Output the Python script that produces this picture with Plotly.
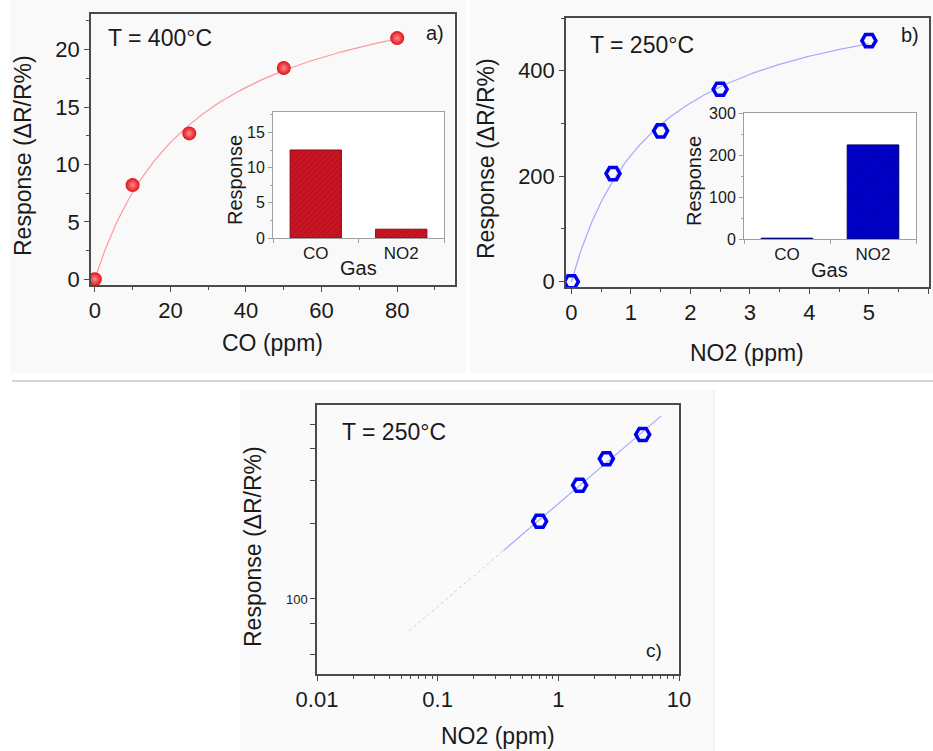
import numpy as np
import plotly.graph_objects as go

# ---------------- data ----------------
co_ppm = [0, 10, 25, 50, 80]
co_resp = [0, 8.2, 12.7, 18.4, 21.0]

no2_ppm = [0, 0.7, 1.5, 2.5, 5]
no2_resp = [0, 205, 286, 365, 457]

gases = ["CO", "NO2"]
resp_400C = [12.5, 1.25]
resp_250C = [2, 224]

loglog_ppm = no2_ppm[1:]
loglog_resp = no2_resp[1:]

c_fit_span = [0.058, 0.35, 7.14]   # extrapolated (dotted) start, solid start, end

W, H = 933, 751
FONT = "Liberation Sans, Arial, sans-serif"
TXT = "#1a1a1a"


def langmuir_fit(x, y):
    """least-squares fit of y = a*x/(b+x)"""
    x = np.asarray(x, float)
    y = np.asarray(y, float)
    best = None
    for b in np.linspace(0.01, 3.0, 3000) * x.max():
        f = x / (b + x)
        a = (f * y).sum() / (f * f).sum()
        sse = ((a * f - y) ** 2).sum()
        if best is None or sse < best[0]:
            best = (sse, a, b)
    return best[1], best[2]


def dx(a, b):
    return [a / W, b / W]


def dy(top, bottom):
    return [1 - bottom / H, 1 - top / H]


fig = go.Figure()

# ---------- panel a ----------
A1, B1 = langmuir_fit(co_ppm, co_resp)
xa = np.linspace(0, max(co_ppm), 200)
fig.add_trace(go.Scatter(x=xa, y=A1 * xa / (B1 + xa), mode="lines",
                         line=dict(color="#ff9a9a", width=1.2), xaxis="x", yaxis="y",
                         showlegend=False, hoverinfo="skip"))
fig.add_trace(go.Scatter(x=co_ppm, y=co_resp, mode="markers",
                         marker=dict(size=14, color="#e0101a",
                                     gradient=dict(type="radial", color="#ff8a8a"),
                                     line=dict(width=0)),
                         xaxis="x", yaxis="y", showlegend=False))

# ---------- inset a ----------
fig.add_trace(go.Bar(x=gases, y=resp_400C, width=0.6,
                     marker=dict(color="#c81424", line=dict(color="#8a0a14", width=1),
                                 pattern=dict(shape="/", fgcolor="#8a0a14", bgcolor="#cc1424",
                                              size=4, solidity=0.25)),
                     xaxis="x2", yaxis="y2", showlegend=False))

# ---------- panel b ----------
A2, B2 = langmuir_fit(no2_ppm, no2_resp)
xb = np.linspace(0, max(no2_ppm), 200)
fig.add_trace(go.Scatter(x=xb, y=A2 * xb / (B2 + xb), mode="lines",
                         line=dict(color="#a8a8ff", width=1.2), xaxis="x3", yaxis="y3",
                         showlegend=False, hoverinfo="skip"))
fig.add_trace(go.Scatter(x=no2_ppm, y=no2_resp, mode="markers",
                         marker=dict(symbol="hexagon2-open", size=14, color="#0000ee",
                                     line=dict(width=3.5, color="#0000ee")),
                         xaxis="x3", yaxis="y3", showlegend=False))

# ---------- inset b ----------
fig.add_trace(go.Bar(x=gases, y=resp_250C, width=0.6,
                     marker=dict(color="#0000c8", line=dict(color="#000070", width=1),
                                 pattern=dict(shape="/", fgcolor="#000080", bgcolor="#0000cc",
                                              size=4, solidity=0.25)),
                     xaxis="x4", yaxis="y4", showlegend=False))

# ---------- panel c ----------
slope, icpt = np.polyfit(np.log10(loglog_ppm), np.log10(loglog_resp), 1)
xd = np.logspace(np.log10(c_fit_span[0]), np.log10(c_fit_span[1]), 60)
xs = np.logspace(np.log10(c_fit_span[1]), np.log10(c_fit_span[2]), 60)
fig.add_trace(go.Scatter(x=xd, y=10 ** (icpt + slope * np.log10(xd)), mode="lines",
                         line=dict(color="#c8c8ff", width=1, dash="dot"),
                         xaxis="x5", yaxis="y5", showlegend=False, hoverinfo="skip"))
fig.add_trace(go.Scatter(x=xs, y=10 ** (icpt + slope * np.log10(xs)), mode="lines",
                         line=dict(color="#a8a8ff", width=1.2),
                         xaxis="x5", yaxis="y5", showlegend=False, hoverinfo="skip"))
fig.add_trace(go.Scatter(x=loglog_ppm, y=loglog_resp, mode="markers",
                         marker=dict(symbol="hexagon2-open", size=14, color="#0000ee",
                                     line=dict(width=3.5, color="#0000ee")),
                         xaxis="x5", yaxis="y5", showlegend=False))

main_ax = dict(showline=True, mirror=True, linecolor="#4a4a4a", linewidth=1.5,
               ticks="outside", ticklen=5, tickwidth=1.2, tickcolor="#4a4a4a",
               showgrid=False, zeroline=False, automargin=False,
               tickfont=dict(family=FONT, size=22, color=TXT))
inset_ax = dict(showline=True, mirror=True, linecolor="#a0a0a0", linewidth=1,
                ticks="outside", ticklen=4, tickwidth=1, tickcolor="#a0a0a0",
                showgrid=False, zeroline=False, automargin=False,
                tickfont=dict(family=FONT, size=16, color=TXT))
minor_main = dict(ticks="outside", ticklen=3, tickcolor="#4a4a4a")
minor_inset = dict(ticks="outside", ticklen=2, tickcolor="#a0a0a0")

c_ytick_vals = [60, 80, 100, 200, 300, 400, 500]
c_ytick_text = ["", "", "100", "", "", "", ""]
c_xminor = [m * 10.0 ** e for e in (-2, -1, 0) for m in range(2, 10)]

fig.update_layout(
    width=W, height=H, margin=dict(l=0, r=0, t=0, b=0, autoexpand=False),
    paper_bgcolor="white", plot_bgcolor="white",
    font=dict(family=FONT, color=TXT),
    xaxis=dict(domain=dx(91, 455), range=[-1, 95.3], anchor="y", dtick=20,
               minor=dict(dtick=10, **minor_main), **main_ax),
    yaxis=dict(domain=dy(14, 285), range=[-0.5, 23.1], anchor="x", dtick=5,
               minor=dict(dtick=2.5, **minor_main), **main_ax),
    xaxis2=dict(domain=dx(273, 444), range=[-0.5, 1.5], anchor="y2", type="category",
                tickson="boundaries", **{**inset_ax, "tickfont": dict(family=FONT, size=17, color=TXT)}),
    yaxis2=dict(domain=dy(112, 238), range=[0, 17.9], anchor="x2", dtick=5,
                minor=dict(dtick=2.5, **minor_inset), **inset_ax),
    xaxis3=dict(domain=dx(566, 929), range=[-0.09, 6.01], anchor="y3", dtick=1,
                minor=dict(dtick=0.5, **minor_main), **main_ax),
    yaxis3=dict(domain=dy(18, 287), range=[-10, 500], anchor="x3", dtick=200,
                minor=dict(dtick=100, **minor_main), **main_ax),
    xaxis4=dict(domain=dx(744, 916), range=[-0.5, 1.5], anchor="y4", type="category",
                tickson="boundaries", **{**inset_ax, "tickfont": dict(family=FONT, size=17, color=TXT)}),
    yaxis4=dict(domain=dy(113, 239), range=[0, 300], anchor="x4", dtick=100,
                minor=dict(dtick=50, **minor_inset), **inset_ax),
    xaxis5=dict(domain=dx(317, 679), type="log", range=[-2, 1], anchor="y5",
                tickvals=[0.01, 0.1, 1, 10], ticktext=["0.01", "0.1", "1", "10"],
                minor=dict(tickmode="array", tickvals=c_xminor, **minor_main), **main_ax),
    yaxis5=dict(domain=dy(405, 674), type="log", range=[np.log10(50), np.log10(600)],
                anchor="x5", tickvals=c_ytick_vals, ticktext=c_ytick_text,
                **{**main_ax, "tickfont": dict(family=FONT, size=13, color=TXT)}),
    bargap=0.4,
)

# decorative panel backgrounds and separator
shapes = [
    dict(type="rect", xref="paper", yref="paper", x0=10 / W, x1=466 / W, y0=1 - 373 / H, y1=1,
         fillcolor="#f9f9f9", line=dict(width=0), layer="below"),
    dict(type="rect", xref="paper", yref="paper", x0=470 / W, x1=1, y0=1 - 373 / H, y1=1,
         fillcolor="#f9f9f9", line=dict(width=0), layer="below"),
    dict(type="rect", xref="paper", yref="paper", x0=240 / W, x1=714 / W, y0=0, y1=1 - 390 / H,
         fillcolor="#fafafa", line=dict(width=0), layer="below"),
    dict(type="line", xref="paper", yref="paper", x0=12 / W, x1=1, y0=1 - 381 / H, y1=1 - 381 / H,
         line=dict(color="#b0b0b0", width=1.2)),
    dict(type="line", xref="paper", yref="paper", x0=714 / W, x1=714 / W, y0=0, y1=1 - 390 / H,
         line=dict(color="#e6e6e6", width=1)),
]
fig.update_layout(shapes=shapes)


def ann(text, x, y, size, xanchor="center", yanchor="middle", angle=0):
    fig.add_annotation(text=text, x=x / W, y=1 - y / H, xref="paper", yref="paper",
                       showarrow=False, xanchor=xanchor, yanchor=yanchor, textangle=angle,
                       font=dict(family=FONT, size=size, color=TXT))


# panel a texts
ann("T = 400°C", 106, 38, 23, xanchor="left")
ann("a)", 446, 33, 20, xanchor="right")
ann("CO (ppm)", 272, 343, 23)
ann("Response (ΔR/R%)", 23, 156, 23, angle=-90)
ann("Response", 235, 180, 20, angle=-90)
ann("Gas", 358, 268, 20)
# panel b texts
ann("T = 250°C", 588, 45, 23, xanchor="left")
ann("b)", 921, 35, 20, xanchor="right")
ann("NO2 (ppm)", 747, 353, 23)
ann("Response (ΔR/R%)", 486, 159, 23, angle=-90)
ann("Response", 694, 181, 20, angle=-90)
ann("Gas", 829, 270, 20)
# panel c texts
ann("T = 250°C", 340, 432, 23, xanchor="left")
ann("c)", 664, 650, 19, xanchor="right")
ann("NO2 (ppm)", 498, 736, 23)
ann("Response (ΔR/R%)", 253, 546, 23, angle=-90)

fig.write_html("out.html", config={"displayModeBar": False},
               post_script="document.body.style.margin='0';document.body.style.overflow='hidden';")
